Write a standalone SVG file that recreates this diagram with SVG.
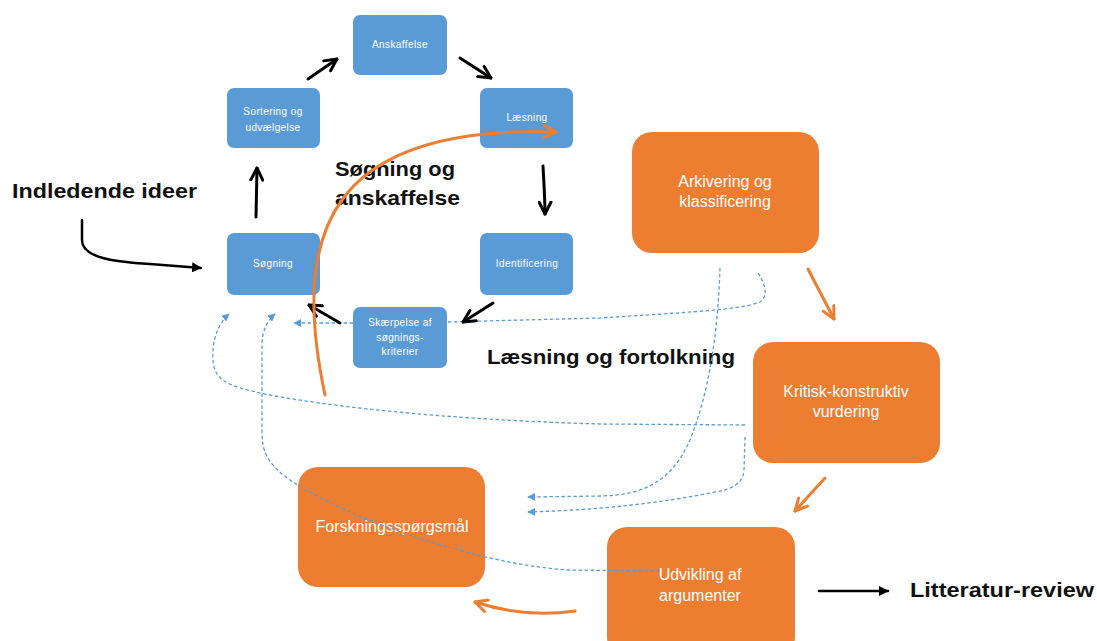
<svg xmlns="http://www.w3.org/2000/svg" width="1097" height="641" viewBox="0 0 1097 641">
  <style>
    .blue { fill: #5B9BD5; }
    .orange { fill: #ED7D31; }
    .small { font-family: "Liberation Sans", Arial, sans-serif; font-size: 10px; fill: #ffffff; text-anchor: middle; letter-spacing: 0.4px; }
    .mid { font-family: "Liberation Sans", Arial, sans-serif; font-size: 16px; fill: #ffffff; text-anchor: middle; }
    .label { font-family: "Liberation Sans", Arial, sans-serif; font-size: 21px; font-weight: bold; fill: #111111; }
    .black { fill: none; stroke: #000000; stroke-width: 3; stroke-linecap: round; marker-end: url(#vBlack); }
    .blackThin { fill: none; stroke: #000000; stroke-width: 2.5; stroke-linecap: round; marker-end: url(#triBlack); }
    .orangeLine { fill: none; stroke: #ED7D31; stroke-width: 3; stroke-linecap: round; marker-end: url(#vOrange); }
    .dash { fill: none; stroke: #5B9BD5; stroke-width: 1.3; stroke-dasharray: 3.5 2.5; }
    .dashArrow { marker-end: url(#triBlue); }
  </style>
  <defs>
    <marker id="vBlack" viewBox="0 0 10 10" refX="9" refY="5" markerWidth="5" markerHeight="5" orient="auto">
      <path d="M1,1 L9,5 L1,9" fill="none" stroke="#000000" stroke-width="2" stroke-linecap="round" stroke-linejoin="round"/>
    </marker>
    <marker id="vOrange" viewBox="0 0 10 10" refX="9" refY="5" markerWidth="5" markerHeight="5" orient="auto">
      <path d="M1,1 L9,5 L1,9" fill="none" stroke="#ED7D31" stroke-width="2" stroke-linecap="round" stroke-linejoin="round"/>
    </marker>
    <marker id="triBlack" viewBox="0 0 10 10" refX="9" refY="5" markerWidth="4" markerHeight="4" orient="auto">
      <path d="M0,0 L10,5 L0,10 Z" fill="#000000"/>
    </marker>
    <marker id="triBlue" viewBox="0 0 10 10" refX="9" refY="5" markerWidth="6" markerHeight="6" orient="auto">
      <path d="M0,0 L10,5 L0,10 Z" fill="#5B9BD5"/>
    </marker>
  </defs>

  <rect width="1097" height="641" fill="#ffffff"/>

  <!-- free-standing labels -->
  <g id="labels">
    <text class="label" x="12" y="198" textLength="185" lengthAdjust="spacingAndGlyphs">Indledende ideer</text>
    <text class="label" x="335" y="176" textLength="120" lengthAdjust="spacingAndGlyphs">Søgning og</text>
    <text class="label" x="335" y="205" textLength="125" lengthAdjust="spacingAndGlyphs">anskaffelse</text>
    <text class="label" x="487" y="364" textLength="248" lengthAdjust="spacingAndGlyphs">Læsning og fortolkning</text>
    <text class="label" x="910" y="597" textLength="184" lengthAdjust="spacingAndGlyphs">Litteratur-review</text>
  </g>

  <!-- search cycle -->
  <g id="anskaffelse">
    <rect class="blue" x="353" y="15" width="94" height="60" rx="7"/>
    <text class="small" x="400" y="48">Anskaffelse</text>
  </g>
  <g id="sortering">
    <rect class="blue" x="227" y="88" width="93" height="60" rx="7"/>
    <text class="small" x="273" y="115">Sortering og</text>
    <text class="small" x="273" y="131">udvælgelse</text>
  </g>
  <g id="laesning">
    <rect class="blue" x="480" y="88" width="93" height="60" rx="7"/>
    <text class="small" x="527" y="121">Læsning</text>
  </g>
  <g id="soegning">
    <rect class="blue" x="227" y="233" width="93" height="62" rx="7"/>
    <text class="small" x="273" y="267">Søgning</text>
  </g>
  <g id="identificering">
    <rect class="blue" x="480" y="233" width="93" height="62" rx="7"/>
    <text class="small" x="527" y="267">Identificering</text>
  </g>
  <g id="skaerpelse">
    <rect class="blue" x="353" y="307" width="94" height="61" rx="7"/>
    <text class="small" x="400" y="326">Skærpelse af</text>
    <text class="small" x="400" y="341">søgnings-</text>
    <text class="small" x="400" y="355">kriterier</text>
  </g>

  <!-- reading and interpretation -->
  <g id="arkivering">
    <rect class="orange" x="632" y="132" width="187" height="121" rx="20"/>
    <text class="mid" x="725" y="187">Arkivering og</text>
    <text class="mid" x="725" y="207">klassificering</text>
  </g>
  <g id="kritisk">
    <rect class="orange" x="753" y="342" width="187" height="121" rx="20"/>
    <text class="mid" x="846" y="397">Kritisk-konstruktiv</text>
    <text class="mid" x="846" y="417">vurdering</text>
  </g>
  <g id="forskningsspoergsmaal">
    <rect class="orange" x="298" y="467" width="187" height="120" rx="20"/>
    <text class="mid" x="392" y="532">Forskningsspørgsmål</text>
  </g>
  <g id="udvikling">
    <rect class="orange" x="607" y="527" width="188" height="130" rx="20"/>
    <text class="mid" x="700" y="580">Udvikling af</text>
    <text class="mid" x="700" y="601">argumenter</text>
  </g>

  <g id="connectors">
    <!-- dashed feedback lines -->
    <path class="dash dashArrow" d="M720,268 C718,330 710,390 690,440 C670,485 640,495 600,496 L528,497"/>
    <path class="dash" d="M758,273 C766,285 768,297 760,302 C740,310 690,312 600,318 L447,322"/>
    <path class="dash dashArrow" d="M353,323 L294,323"/>
    <path class="dash dashArrow" d="M745,425 L600,424 C450,420 300,405 240,388 C215,380 212,370 213,350 C214,335 220,322 229,314"/>
    <path class="dash dashArrow" d="M745,437 L744,470 C743,485 730,490 710,493 C660,503 600,510 528,512"/>
    <path class="dash dashArrow" d="M660,571 L570,570 C480,565 350,520 290,480 C265,462 262,450 262,430 L262,345 C262,330 268,320 275,314"/>

    <!-- search cycle arrows -->
    <path class="black" d="M308,79 L337,59"/>
    <path class="black" d="M460,58 L491,78"/>
    <path class="black" d="M543,166 C544,185 545,200 545,214"/>
    <path class="black" d="M493,303 L463,322"/>
    <path class="black" d="M340,323 L309,305"/>
    <path class="black" d="M256,217 L257,168"/>
    <path class="blackThin" d="M82,220 L82,240 C82,258 115,262 150,264 L201,268"/>
    <path class="blackThin" d="M819,591 L888,591"/>

    <!-- reading cycle arrows -->
    <path class="orangeLine" d="M325,395 C290,230 330,125 556,132"/>
    <path class="orangeLine" d="M808,269 L834,319"/>
    <path class="orangeLine" d="M825,478 L795,511"/>
    <path class="orangeLine" d="M575,611 C540,616 505,612 475,602"/>
  </g>
</svg>
